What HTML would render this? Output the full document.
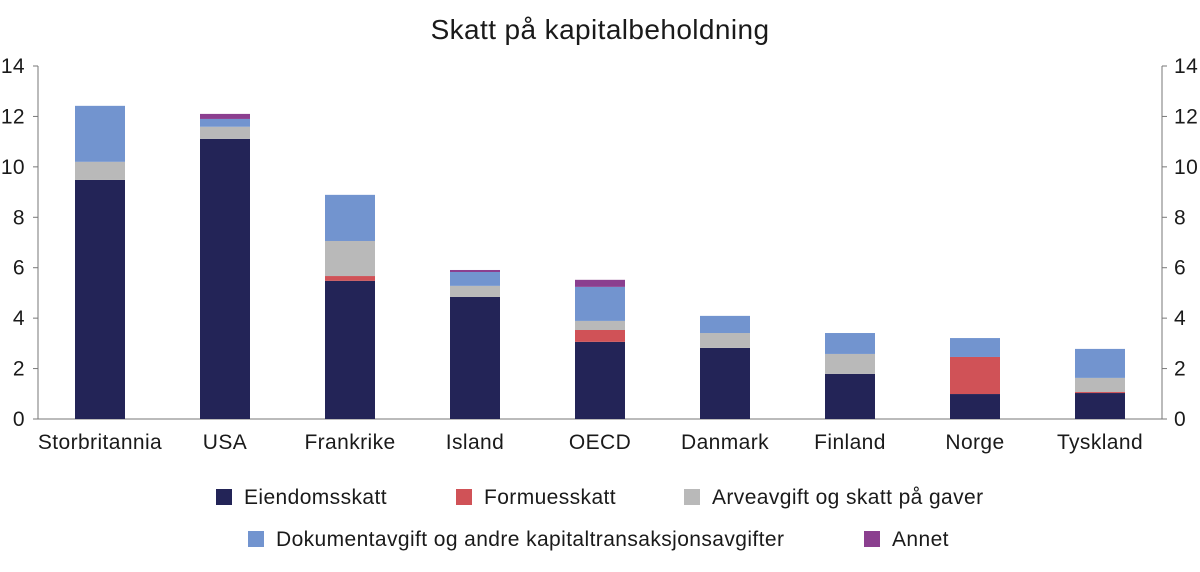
<!DOCTYPE html>
<html><head><meta charset="utf-8"><style>
body{margin:0;background:#fff;font-family:"Liberation Sans",sans-serif;}
svg text{font-family:"Liberation Sans",sans-serif;fill:#1a1a1a;letter-spacing:0.4px;}
</style></head><body>
<svg id="chart" width="1200" height="567">
<text x="600" y="39" font-size="28" text-anchor="middle">Skatt på kapitalbeholdning</text>
<g id="axes"></g><g id="bars"></g><g id="legend"></g>
</svg>
<script>
const categories=["Storbritannia","USA","Frankrike","Island","OECD","Danmark","Finland","Norge","Tyskland"];
const eiendom=[9.48,11.11,5.48,4.84,3.06,2.82,1.79,0.99,1.03];
const formue=[0,0,0.19,0,0.47,0,0,1.47,0.04];
const arve=[0.72,0.48,1.39,0.44,0.36,0.59,0.79,0,0.56];
const dokument=[2.22,0.31,1.83,0.55,1.35,0.68,0.83,0.75,1.15];
const annet=[0,0.2,0,0.08,0.28,0,0,0,0];
const yTicks=[0,2,4,6,8,10,12,14];
const seriesNames=["Eiendomsskatt","Formuesskatt","Arveavgift og skatt på gaver","Dokumentavgift og andre kapitaltransaksjonsavgifter","Annet"];
const colors=["#232457","#d05257","#b9b9b9","#7294cf","#8b3f8f"];
const series=[eiendom,formue,arve,dokument,annet];
const NS="http://www.w3.org/2000/svg";
const y0=419,yTop=66,left=38,right=1162;
const y=v=>y0-(v/14)*(y0-yTop);
const x=i=>100+i*125;
function mk(t,a,p){const e=document.createElementNS(NS,t);for(const k in a)e.setAttribute(k,a[k]);p.appendChild(e);return e;}
const ax=document.getElementById('axes');
const axc='#777';
let l=mk('line',{x1:left,x2:left,y1:yTop,y2:y0,stroke:axc,'stroke-width':1},ax);


l=mk('line',{x1:right,x2:right,y1:yTop,y2:y0,stroke:axc,'stroke-width':1},ax);


l=mk('line',{x1:left,x2:right,y1:y0,y2:y0,stroke:axc,'stroke-width':1},ax);


yTicks.forEach(v=>{
 let t=mk('text',{x:25,y:y(v)+7,'font-size':21,'text-anchor':'end'},ax);t.textContent=v;
 
 
 t=mk('text',{x:1174,y:y(v)+7,'font-size':21,'text-anchor':'start'},ax);t.textContent=v;
 
 
 let tk=mk('line',{x1:left-5,x2:left,y1:y(v),y2:y(v),stroke:axc},ax);
 
 
 tk=mk('line',{x1:right,x2:right+5,y1:y(v),y2:y(v),stroke:axc},ax);
 
 
});
const bg=document.getElementById('bars');
categories.forEach((c,i)=>{
 let cum=0;
 series.forEach((s,k)=>{
  const v=s[i];if(v<=0)return;
  const r=mk('rect',{x:x(i)-25,width:50,y:y(cum+v),height:y(cum)-y(cum+v),fill:colors[k]},bg);
  
  
  cum+=v;
 });
 const t=mk('text',{x:x(i),y:449,'font-size':21,'text-anchor':'middle'},bg);t.textContent=c;
 
 
});
const lg=document.getElementById('legend');
const lpos=[[216,497],[456,497],[684,497],[248,539],[864,539]];
seriesNames.forEach((n,k)=>{
 const r=mk('rect',{x:lpos[k][0],y:lpos[k][1]-8,width:16,height:16,fill:colors[k]},lg);
 
 
 const t=mk('text',{x:lpos[k][0]+28,y:lpos[k][1]+7,'font-size':21},lg);t.textContent=n;
 
 
});
</script>
</body></html>
